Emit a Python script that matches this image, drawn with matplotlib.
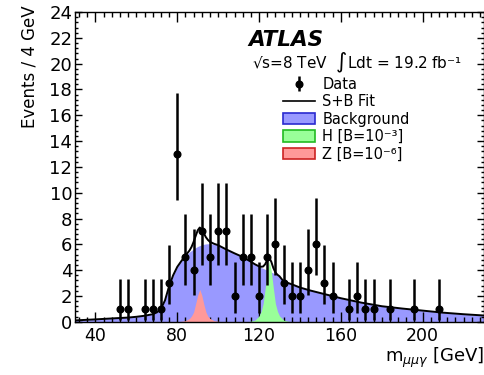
import matplotlib
matplotlib.use('Agg')
import matplotlib.pyplot as plt
from matplotlib.ticker import MultipleLocator
from matplotlib.patches import Patch
from matplotlib.lines import Line2D

# data points (4 GeV bins, empty bins not drawn)
data_m = [52, 56, 64, 68, 72, 76, 80, 84, 88, 92, 96, 100, 104, 108, 112, 116, 120,
          124, 128, 132, 136, 140, 144, 148, 152, 156, 164, 168, 172, 176, 184, 196, 208]
data_n = [1, 1, 1, 1, 1, 3, 13, 5, 4, 7, 5, 7, 7, 2, 5, 5, 2,
          5, 6, 3, 2, 2, 4, 6, 3, 2, 1, 2, 1, 1, 1, 1, 1]
err_lo = [0.83, 0.83, 0.83, 0.83, 0.83, 1.63, 3.56, 2.16, 1.91, 2.58, 2.16, 2.58, 2.58, 1.29, 2.16, 2.16, 1.29,
          2.16, 2.38, 1.63, 1.29, 1.29, 1.91, 2.38, 1.63, 1.29, 0.83, 1.29, 0.83, 0.83, 0.83, 0.83, 0.83]
err_hi = [2.30, 2.30, 2.30, 2.30, 2.30, 2.92, 4.70, 3.38, 3.16, 3.77, 3.38, 3.77, 3.77, 2.64, 3.38, 3.38, 2.64,
          3.38, 3.58, 2.92, 2.64, 2.64, 3.16, 3.58, 2.92, 2.64, 2.30, 2.64, 2.30, 2.30, 2.30, 2.30, 2.30]

# background and S+B fit curves
mass = [30, 40, 50, 56, 60, 64, 68, 70, 72, 74, 76, 78, 80, 82, 84, 86, 87, 88, 89, 90,
        91, 92, 93, 94, 95, 96, 98, 100, 104, 108, 112, 116, 118, 120, 121, 122, 123, 124,
        125, 126, 127, 128, 129, 130, 132, 136, 140, 145, 150, 160, 170, 180, 190, 200,
        210, 220, 230]
bkg = [0.10, 0.18, 0.27, 0.32, 0.38, 0.46, 0.58, 0.72, 1.00, 1.65, 2.75, 3.60, 4.25, 4.70,
       5.10, 5.40, 5.52, 5.64, 5.74, 5.83, 5.90, 5.96, 6.00, 6.03, 6.04, 6.04, 6.00, 5.93,
       5.60, 5.30, 5.02, 4.65, 4.45, 4.27, 4.20, 4.13, 4.06, 3.99, 3.92, 3.84, 3.76, 3.67,
       3.58, 3.50, 3.12, 2.90, 2.65, 2.42, 2.22, 1.82, 1.48, 1.20, 1.02, 0.86, 0.70, 0.58, 0.48]
fit = [0.10, 0.18, 0.27, 0.32, 0.38, 0.46, 0.58, 0.72, 1.00, 1.65, 2.75, 3.60, 4.25, 4.70,
       5.13, 5.52, 5.80, 6.19, 6.64, 7.08, 7.30, 7.16, 6.85, 6.55, 6.34, 6.19, 6.04, 5.93,
       5.60, 5.30, 5.02, 4.65, 4.45, 4.29, 4.26, 4.28, 4.46, 4.79, 4.97, 4.64, 4.16, 3.82,
       3.64, 3.52, 3.12, 2.90, 2.65, 2.42, 2.22, 1.82, 1.48, 1.20, 1.02, 0.86, 0.70, 0.58, 0.48]

# signal shapes
z_mass = [80, 82, 84, 86, 87, 88, 89, 90, 91, 92, 93, 94, 95, 96, 98, 100, 102]
z_sig = [0.0, 0.03, 0.08, 0.25, 0.45, 0.75, 1.40, 2.05, 2.50, 2.05, 1.35, 0.75, 0.42, 0.25, 0.08, 0.03, 0.0]
h_mass = [114, 116, 118, 120, 121, 122, 123, 124, 125, 126, 127, 128, 129, 130, 132, 134, 136]
h_sig = [0.0, 0.04, 0.12, 0.45, 0.80, 1.40, 2.60, 3.90, 4.70, 3.90, 2.60, 1.40, 0.80, 0.45, 0.12, 0.04, 0.0]

blue, blue_edge = '#9999ff', '#2a2ad0'
green, green_edge = '#99ff99', '#22bb22'
red, red_edge = '#ff9999', '#cc2222'

plt.rcParams['font.family'] = ['DejaVu Sans']
plt.rcParams['mathtext.fontset'] = 'dejavusans'

fig = plt.figure(figsize=(4.85, 3.75), dpi=100)
ax = fig.add_axes([75 / 485, 53.3 / 375, 409 / 485, 309.6 / 375])

ax.fill_between(mass, bkg, 0, color=blue, lw=0, zorder=1)
ax.fill_between(z_mass, z_sig, 0, color=red, lw=0, zorder=2)
ax.fill_between(h_mass, h_sig, 0, color=green, lw=0, zorder=2)
ax.plot(mass, fit, color='k', lw=1.4, zorder=3)
eb = ax.errorbar(data_m, data_n, yerr=[err_lo, err_hi], fmt='o', color='k', ms=4.8,
                 elinewidth=1.8, capsize=0, zorder=4)

ax.set_xlim(30, 230)
ax.set_ylim(0, 24)
ax.xaxis.set_major_locator(MultipleLocator(40))
ax.xaxis.set_minor_locator(MultipleLocator(4))
ax.yaxis.set_major_locator(MultipleLocator(2))
ax.yaxis.set_minor_locator(MultipleLocator(0.4))
ax.tick_params(which='both', direction='in', top=True, right=True, width=1)
ax.tick_params(axis='x', which='major', length=7, pad=4, labelsize=12.5)
ax.tick_params(axis='x', which='minor', length=3.5)
ax.tick_params(axis='y', which='major', length=5, pad=2, labelsize=13)
ax.tick_params(axis='y', which='minor', length=2.5)
for s in ax.spines.values():
    s.set_linewidth(1)

fig.text(30 / 485, 1 - 5 / 375, 'Events / 4 GeV', rotation=90, ha='center', va='top', fontsize=12)
fig.text(484 / 485, 1 - 358 / 375, r'm$_{\mu\mu\gamma}$ [GeV]', ha='right', va='center', fontsize=13)

fig.text(248 / 485, 1 - 46 / 375, 'ATLAS', ha='left', va='baseline', fontsize=15.5,
         fontweight='bold', fontstyle='italic')
fig.text(252 / 485, 1 - 68 / 375, '\u221As=8 TeV  $\\int$Ldt = 19.2 fb\u207B\u00B9',
         ha='left', va='baseline', fontsize=11)

handles = [eb,
           Line2D([], [], color='k', lw=1.2),
           Patch(facecolor=blue, edgecolor=blue_edge, lw=1.2),
           Patch(facecolor=green, edgecolor=green_edge, lw=1.2),
           Patch(facecolor=red, edgecolor=red_edge, lw=1.2)]
labels = ['Data', 'S+B Fit', 'Background', 'H [B=10\u207B\u00B3]', 'Z [B=10\u207B\u2076]']
ax.legend(handles, labels, loc='upper left', bbox_to_anchor=(283 / 485, 1 - 77 / 375),
          bbox_transform=fig.transFigure, frameon=False, fontsize=10.5, borderpad=0,
          borderaxespad=0, handlelength=2.2, handleheight=0.8, handletextpad=0.5,
          labelspacing=0.16)

fig.savefig('out.png', dpi=100)
